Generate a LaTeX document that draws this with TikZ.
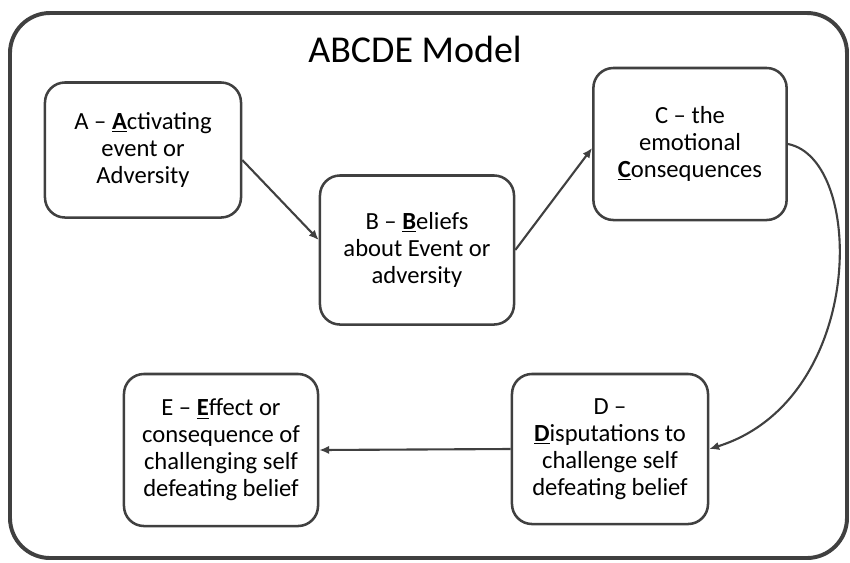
\documentclass[tikz,border=0pt]{standalone}
\usepackage{fontspec}
\setmainfont{Carlito}
\usetikzlibrary{arrows.meta,positioning}
\definecolor{boxgray}{HTML}{404040}
\tikzset{
  stage/.style={draw=boxgray,line width=1.8pt,rounded corners=0.5cm,fill=white,
    align=center,font=\fontsize{17.5}{19.2}\selectfont,inner sep=0pt,
    minimum width=4.85cm,minimum height=3.75cm},
  link/.style={draw=boxgray,line width=1.5pt,-{Latex[length=7pt,width=6pt]}},
}
\newcommand{\keyletter}[1]{\underline{\textbf{#1}}}
\begin{document}
\begin{tikzpicture}[x=0.025cm,y=-0.025cm]
% ==========================================
\useasboundingbox (0,0) rectangle (850,562);
\draw [boxgray,line width=2.8pt,rounded corners=1cm] (10,13) rectangle (847,558);
\node (title) at (415,49) {\fontsize{27}{30}\selectfont ABCDE Model};
%
\node [stage,minimum width=4.9cm,minimum height=3.375cm] (A) at (143,150) {A -- \keyletter{A}ctivating\\event or\\Adversity};
\node [stage,minimum height=3.725cm] (B) at (417,250) {B -- \keyletter{B}eliefs\\about Event or\\adversity};
\node [stage,minimum width=4.83cm,minimum height=3.8cm] (C) at (690,144) {C -- the\\emotional\\\keyletter{C}onsequences};
\node [stage,minimum width=4.9cm] (D) at (610,449) {D --\\\keyletter{D}isputations to\\challenge self\\defeating belief};
\node [stage,minimum height=3.8cm] (E) at (221,450) {E -- \keyletter{E}ffect or\\consequence of\\challenging self\\defeating belief};
%
\draw [link] ([yshift=-0.25cm]A.east) -- ([yshift=0.25cm]B.west);%A to B.
\draw [link] (B.east) -- ([yshift=-0.1cm]C.west);%B to C.
\draw [link] (C.east) .. controls +(78,15) and +(157,-49) .. (D.east);%C to D.
\draw [link] (D.west) -- (E.east);%D to E.
% =============================================
\end{tikzpicture}
\end{document}
